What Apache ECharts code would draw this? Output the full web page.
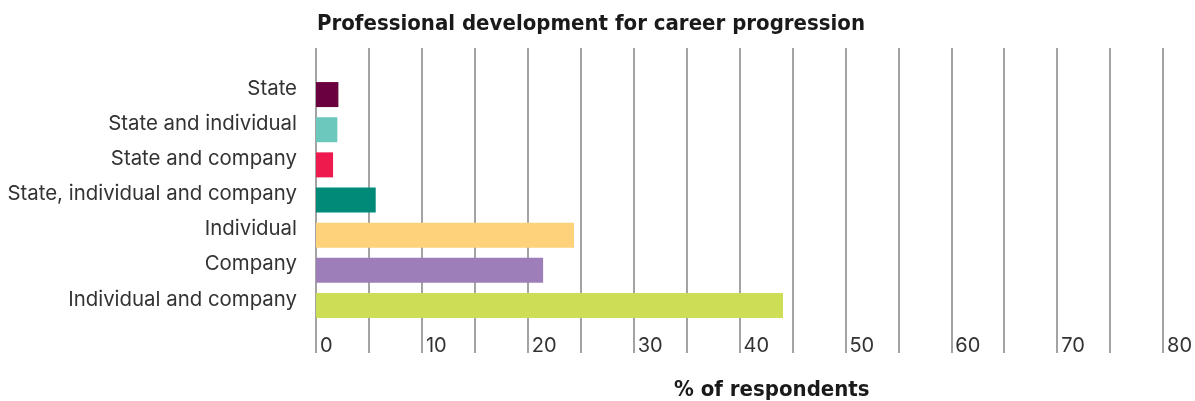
<!DOCTYPE html>
<html>
<head>
<meta charset="utf-8">
<script src="https://cdn.jsdelivr.net/npm/echarts@6/dist/echarts.min.js"></script>
<style>
  html, body { margin: 0; padding: 0; background: #fff; }
  #chart { width: 1195px; height: 401px; }
</style>
</head>
<body>
<div id="chart"></div>
<script>
// Who funds professional development, share of respondents (%)
const categories = [
  'State',
  'State and individual',
  'State and company',
  'State, individual and company',
  'Individual',
  'Company',
  'Individual and company'
];
const values = [2.1, 2.0, 1.6, 5.6, 24.2, 21.3, 43.8];
const barColors = ['#6b003e', '#6cc7bd', '#ee1a4e', '#008a77', '#fed27b', '#9e7eb8', '#cddd55'];
const axisMin = 0;
const axisMax = 80;
const tickStep = 5;

const titleText = 'Professional development for career progression';
const axisTitle = '% of respondents';

const labelFont = 'Inter, "Noto Sans", sans-serif';
const headFont = '"Liberation Sans Narrow", "DejaVu Sans Condensed", sans-serif';

const chart = echarts.init(document.getElementById('chart'), null, { renderer: 'canvas' });

const option = {
  backgroundColor: '#ffffff',
  animation: false,
  title: [
    {
      text: titleText,
      left: 312, top: 8,
      textStyle: { fontFamily: headFont, fontWeight: 'bold', fontSize: 22, color: '#1a1a1a' }
    },
    {
      text: axisTitle,
      left: 669, top: 374,
      textStyle: { fontFamily: headFont, fontWeight: 'bold', fontSize: 22, color: '#1a1a1a' }
    }
  ],
  grid: [
    // bars
    { left: 316, right: 26, top: 77, bottom: 78 },
    // vertical rules and tick labels, taller than the bar area
    { left: 316, right: 26, top: 48, bottom: 48 }
  ],
  xAxis: [
    {
      gridIndex: 0, type: 'value', min: axisMin, max: axisMax, interval: tickStep,
      axisLine: { show: false }, axisTick: { show: false },
      axisLabel: { show: false }, splitLine: { show: false }
    },
    {
      gridIndex: 1, type: 'value', min: axisMin, max: axisMax, interval: tickStep,
      axisLine: { show: false }, axisTick: { show: false },
      splitLine: { show: true, lineStyle: { color: '#a3a3a3', width: 2 } },
      axisLabel: {
        inside: true, margin: -3,
        align: 'left', verticalAlign: 'bottom',
        padding: [0, 0, 0, 4],
        fontFamily: labelFont, fontSize: 20, color: '#333',
        formatter: v => (v % 10 === 0 ? String(v) : '')
      }
    }
  ],
  yAxis: [
    {
      gridIndex: 0, type: 'category', data: categories, inverse: true,
      axisLine: { show: false }, axisTick: { show: false },
      axisLabel: {
        margin: 19, verticalAlign: 'bottom', lineHeight: 12,
        fontFamily: labelFont, fontSize: 20.4, color: '#333'
      }
    },
    {
      gridIndex: 1, type: 'value', show: false
    }
  ],
  series: [
    {
      type: 'bar',
      xAxisIndex: 0, yAxisIndex: 0,
      barWidth: 25,
      z: 3,
      data: values.map((v, i) => ({ value: v, itemStyle: { color: barColors[i] } }))
    }
  ]
};

chart.setOption(option);
</script>
</body>
</html>
